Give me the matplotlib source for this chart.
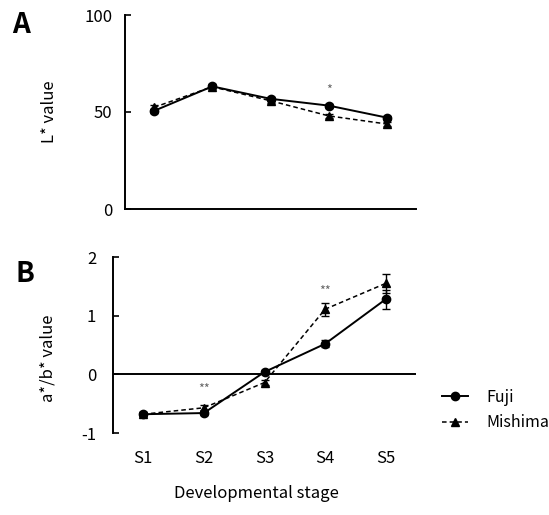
import matplotlib

matplotlib.use("Agg")

import matplotlib.pyplot as plt

plt.rcParams["font.family"] = ["Noto Sans CJK KR", "DejaVu Sans"]
plt.rcParams["axes.unicode_minus"] = False

stages = ["S1", "S2", "S3", "S4", "S5"]
x_pos = [1, 2, 3, 4, 5]

# panel A: L* value
l_fuji = [50.6, 63.2, 56.8, 53.3, 47.1]
l_fuji_err = [1.0, 1.0, 1.0, 1.0, 1.0]
l_mishima = [52.4, 63.0, 55.8, 48.0, 43.8]
l_mishima_err = [1.0, 1.0, 1.0, 1.0, 1.0]
l_marks = [("*", 4, 61.0)]

# panel B: a*/b* value
ab_fuji = [-0.68, -0.66, 0.04, 0.52, 1.28]
ab_fuji_err = [0.03, 0.03, 0.04, 0.06, 0.16]
ab_mishima = [-0.68, -0.57, -0.14, 1.11, 1.55]
ab_mishima_err = [0.03, 0.04, 0.04, 0.11, 0.16]
ab_marks = [("**", 2, -0.25), ("**", 4, 1.42)]

W, H = 549, 515
fig = plt.figure(figsize=(W / 100, H / 100), dpi=100)
ax_a = fig.add_axes([125 / W, 1 - 209 / H, 291 / W, 194 / H])
ax_b = fig.add_axes([113 / W, 1 - 433 / H, 303 / W, 176 / H])


def draw_series(ax, fuji, fuji_err, mishima, mishima_err):
    ax.errorbar(x_pos, fuji, yerr=fuji_err, color="black", linestyle="-", linewidth=1.4,
                marker="o", markersize=6, capsize=3, elinewidth=1, label="Fuji", zorder=3)
    ax.errorbar(x_pos, mishima, yerr=mishima_err, color="black", linestyle="--", linewidth=1.1,
                dashes=(3, 2), marker="^", markersize=6, capsize=3, elinewidth=1,
                label="Mishima", zorder=3)


for ax in (ax_a, ax_b):
    for side in ("top", "right"):
        ax.spines[side].set_visible(False)
    ax.spines["left"].set_linewidth(1.4)
    ax.set_xlim(0.5, 5.5)
    ax.tick_params(axis="y", direction="in", length=4, width=1.2, labelsize=12)

draw_series(ax_a, l_fuji, l_fuji_err, l_mishima, l_mishima_err)
ax_a.set_ylim(0, 100)
ax_a.set_yticks([0, 50, 100])
ax_a.tick_params(axis="y", pad=9)
ax_a.set_xticks([])
ax_a.spines["bottom"].set_linewidth(1.4)
for text, xi, yi in l_marks:
    ax_a.text(xi, yi, text, ha="center", va="center", fontsize=9, color="#666666")

draw_series(ax_b, ab_fuji, ab_fuji_err, ab_mishima, ab_mishima_err)
ax_b.set_ylim(-1, 2)
ax_b.set_yticks([-1, 0, 1, 2])
ax_b.tick_params(axis="y", pad=12)
ax_b.spines["bottom"].set_visible(False)
ax_b.axhline(0, color="black", linewidth=1.4, zorder=1)
ax_b.set_xticks(x_pos)
ax_b.set_xticklabels(stages)
ax_b.tick_params(axis="x", length=0, labelsize=12, pad=12)
for text, xi, yi in ab_marks:
    ax_b.text(xi, yi, text, ha="center", va="center", fontsize=9, color="#666666")

fig.text(50 / W, 1 - 112 / H, "L* value", rotation=90, ha="center", va="center", fontsize=12)
fig.text(48 / W, 1 - 358 / H, "a*/b* value", rotation=90, ha="center", va="center", fontsize=12)
fig.text(256 / W, 1 - 494 / H, "Developmental stage", ha="center", va="center", fontsize=12)
fig.text(12 / W, 1 - 25 / H, "A", ha="left", va="center", fontsize=20, fontweight="bold")
fig.text(15 / W, 1 - 274 / H, "B", ha="left", va="center", fontsize=20, fontweight="bold")

handles, labels = ax_b.get_legend_handles_labels()
handles = [h[0] for h in handles]
fig.legend(handles, labels, loc="center left", bbox_to_anchor=(442 / W, 1 - 410 / H),
           frameon=False, fontsize=11.5, handlelength=1.6, handletextpad=1.2,
           labelspacing=0.55, borderpad=0, borderaxespad=0)

fig.savefig("out.png", dpi=100)
